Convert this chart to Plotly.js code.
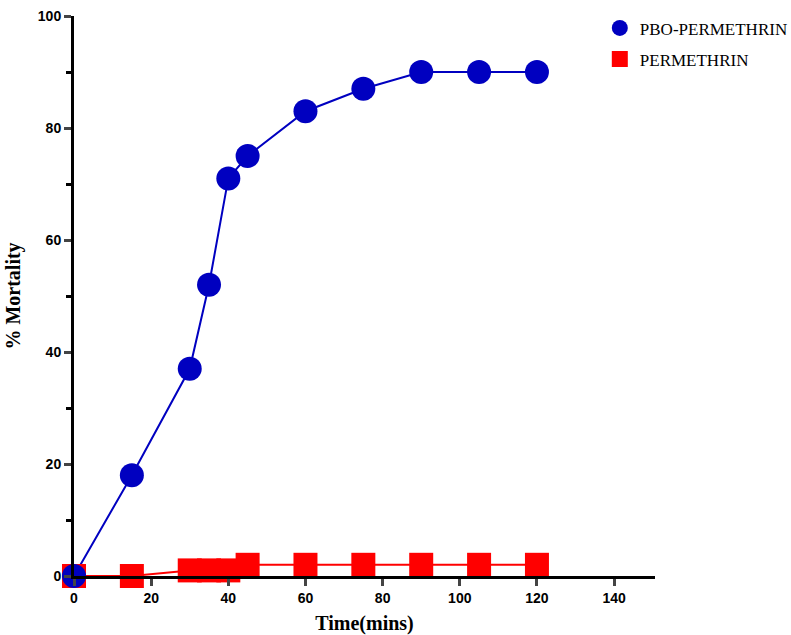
<!DOCTYPE html>
<html><head><meta charset="utf-8">
<script src="https://cdn.plot.ly/plotly-3.0.1.min.js"></script>
<style>body{margin:0;background:#fff}#c{width:791px;height:635px}</style>
</head><body><div id="c"></div>
<script>
const timeMins = [0, 15, 30, 35, 40, 45, 60, 75, 90, 105, 120];
const pboPermethrin = [0, 18, 37, 52, 71, 75, 83, 87, 90, 90, 90];
const permethrin = [0, 0, 1, 1, 1, 2, 2, 2, 2, 2, 2];
const xTicks = [0, 20, 40, 60, 80, 100, 120, 140];
const yTicks = [0, 20, 40, 60, 80, 100];

const serif = 'Liberation Serif, Times New Roman, serif';
const sans = 'Liberation Sans, Arial, sans-serif';
const traces = [
  {x: timeMins, y: permethrin, mode: 'lines', showlegend: false, cliponaxis: false,
   line: {color: '#ff0000', width: 2}},
  {x: timeMins, y: pboPermethrin, mode: 'lines', showlegend: false, cliponaxis: false,
   line: {color: '#0000c0', width: 2}},
  {x: timeMins, y: permethrin, name: 'PERMETHRIN', legendgroup: 'b', legendrank: 2, mode: 'markers', cliponaxis: false,
   marker: {symbol: 'square', size: 24, color: '#ff0000'}},
  {x: timeMins, y: pboPermethrin, name: 'PBO-PERMETHRIN', legendgroup: 'a', legendrank: 1, mode: 'markers', cliponaxis: false,
   marker: {symbol: 'circle', size: 24, color: '#0000c0'}}
];
const layout = {
  width: 791, height: 635,
  margin: {l: 74, r: 136, t: 16, b: 59, autoexpand: false},
  paper_bgcolor: '#fff', plot_bgcolor: '#fff',
  showlegend: true,
  legend: {x: 0.905, y: 1.01, xanchor: 'left', yanchor: 'top', traceorder: 'grouped',
    tracegroupgap: 6,
    font: {family: serif, size: 17, color: '#000'}, itemwidth: 30},
  xaxis: {range: [0, 150.6], tickvals: xTicks, ticks: 'outside', ticklen: 7, tickwidth: 3,
    showline: true, linewidth: 3, linecolor: '#000', showgrid: false, zeroline: false,
    tickfont: {family: sans, size: 14, color: '#000', weight: 'bold'},
    title: {text: '<b>Time(mins)</b>', standoff: 14, font: {family: serif, size: 20, color: '#000'}}},
  yaxis: {range: [0, 100], tickvals: yTicks, ticks: 'outside', ticklen: 7, tickwidth: 3,
    minor: {dtick: 10, ticks: 'outside', ticklen: 5, tickwidth: 3, tickcolor: '#000', showgrid: false},
    showline: true, linewidth: 3, linecolor: '#000', showgrid: false, zeroline: false,
    tickfont: {family: sans, size: 14, color: '#000', weight: 'bold'},
    title: {text: '<b>% Mortality</b>', standoff: 12, font: {family: serif, size: 20, color: '#000'}}}
};
Plotly.newPlot('c', traces, layout, {displayModeBar: false, staticPlot: true});
</script></body></html>
